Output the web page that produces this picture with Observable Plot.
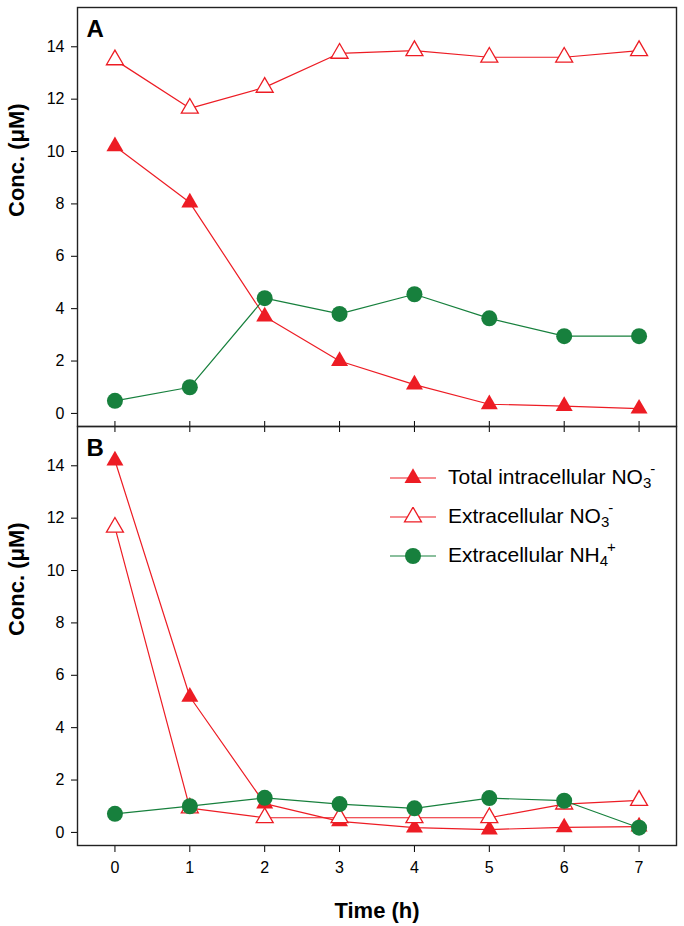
<!DOCTYPE html>
<html><head><meta charset="utf-8">
<script src="https://cdn.jsdelivr.net/npm/d3@7"></script>
<script src="https://cdn.jsdelivr.net/npm/@observablehq/plot@0.6"></script>
<style>
body{margin:0;background:#fff;font-family:"Liberation Sans",Arial,Helvetica,sans-serif;}
#wrap{position:relative;width:684px;height:926px;overflow:hidden;}
#wrap svg g[aria-label="x-axis label"] text{font-size:22px !important;font-weight:bold;}
#wrap svg g[aria-label="x-axis tick label"] text, #wrap svg g[aria-label="y-axis tick label"] text{font-size:16px !important;}
.lg{position:absolute;left:390px;height:20px;display:flex;align-items:center;white-space:nowrap;}
.lg span.t{margin-left:12px;font-size:21px;color:#000;line-height:20px;}
.lg sub{font-size:15px;position:relative;top:4px;vertical-align:baseline;}
.lg sup{font-size:15px;position:relative;top:-10px;vertical-align:baseline;margin-left:-1px;}
</style></head><body><div id="wrap"></div>
<script>
// ---- data ----
const times = [0, 1, 2, 3, 4, 5, 6, 7];
const panels = ["A", "B"];
const yTicks = [0, 2, 4, 6, 8, 10, 12, 14];
const A_intraNO3 = [10.2, 8.05, 3.7, 2.0, 1.1, 0.35, 0.28, 0.18];
const A_extraNO3 = [13.5, 11.65, 12.45, 13.75, 13.85, 13.6, 13.6, 13.85];
const A_extraNH4 = [0.48, 1.0, 4.4, 3.8, 4.55, 3.63, 2.95, 2.95];
const B_intraNO3 = [14.2, 5.18, 1.1, 0.42, 0.18, 0.11, 0.19, 0.22];
const B_extraNO3 = [11.65, 0.93, 0.56, 0.56, 0.56, 0.56, 1.08, 1.22];
const B_extraNH4 = [0.71, 1.0, 1.32, 1.08, 0.92, 1.31, 1.21, 0.18];
const legendMain = ["Total intracellular NO", "Extracellular NO", "Extracellular NH"];
const legendSub = ["3", "3", "4"];
const legendSup = ["-", "-", "+"];
const yLabel = "Conc. (μM)";
const xLabel = "Time (h)";

const RED = "#ed1c24", GREEN = "#17803d";

function rowsOf(panel, vals) { return vals.map((v, i) => ({panel, t: times[i], v})); }
const intra = [...rowsOf("A", A_intraNO3), ...rowsOf("B", B_intraNO3)];
const extra = [...rowsOf("A", A_extraNO3), ...rowsOf("B", B_extraNO3)];
const nh4 = [...rowsOf("A", A_extraNH4), ...rowsOf("B", B_extraNH4)];

const TRI_R = 6.3, CIR_R = 8;

const chart = Plot.plot({
  width: 684, height: 926,
  marginLeft: 77, marginRight: 8, marginTop: 7, marginBottom: 81,
  x: {domain: [-0.5, 7.5]},
  y: {domain: [-0.5, 15.5]},
  fy: {domain: panels, padding: 0, axis: null},
  style: {fontFamily: '"Liberation Sans", Arial, sans-serif', fontSize: "16px", color: "#000", background: "#fff"},
  marks: [
    Plot.axisY({ticks: yTicks, tickSize: 6, tickPadding: 7, fontSize: 16, label: null}),
    Plot.axisX({ticks: times, tickSize: 7, tickPadding: 9, fontSize: 16, label: xLabel, labelAnchor: "center", labelArrow: "none", labelOffset: 72}),
    Plot.axisX({ticks: times, anchor: "bottom", facetAnchor: "top", tickSize: -5, fill: "none", label: null}),
    Plot.axisX({ticks: times, anchor: "top", facetAnchor: "bottom", tickSize: -5, fill: "none", label: null}),
    Plot.text(panels, {fy: d => d, text: d => d, frameAnchor: "top-left", dx: 9, dy: 12, lineAnchor: "top", textAnchor: "start", fontSize: 24, fontWeight: "bold"}),
    Plot.text(panels, {fy: d => d, text: () => yLabel, frameAnchor: "left", dx: -54, rotate: -90, lineAnchor: "bottom", fontSize: 22, fontWeight: "bold"}),
    Plot.line(intra, {x: "t", y: "v", fy: "panel", stroke: RED, strokeWidth: 1.2}),
    Plot.line(extra, {x: "t", y: "v", fy: "panel", stroke: RED, strokeWidth: 1.2}),
    Plot.line(nh4, {x: "t", y: "v", fy: "panel", stroke: GREEN, strokeWidth: 1.2}),
    Plot.dot(intra, {x: "t", y: "v", fy: "panel", symbol: "triangle", r: TRI_R, fill: RED, stroke: "none"}),
    Plot.dot(extra, {x: "t", y: "v", fy: "panel", symbol: "triangle", r: TRI_R, fill: "white", stroke: RED, strokeWidth: 1.3}),
    Plot.dot(nh4, {x: "t", y: "v", fy: "panel", symbol: "circle", r: CIR_R, fill: GREEN, stroke: "none"}),
    Plot.frame({stroke: "#222", strokeWidth: 1.4})
  ]
});
const wrap = document.getElementById("wrap");
wrap.appendChild(chart);

// ---- legend (inside panel B) ----
const legendKinds = ["filled", "open", "circle"];
const rowCenters = [478, 517, 556];
legendKinds.forEach((k, i) => {
  const div = document.createElement("div");
  div.className = "lg";
  div.style.top = (rowCenters[i] - 10) + "px";
  const svg = d3.create("svg").attr("width", 46).attr("height", 20);
  const col = k === "circle" ? GREEN : RED;
  svg.append("line").attr("x1", 0).attr("x2", 46).attr("y1", 10).attr("y2", 10).attr("stroke", col).attr("stroke-width", 1.2);
  if (k === "circle") {
    svg.append("circle").attr("cx", 23).attr("cy", 10).attr("r", CIR_R).attr("fill", GREEN);
  } else {
    svg.append("path").attr("transform", "translate(23,10)")
      .attr("d", d3.symbol(d3.symbolTriangle, Math.PI * TRI_R * TRI_R)())
      .attr("fill", k === "filled" ? RED : "white")
      .attr("stroke", k === "filled" ? "none" : RED).attr("stroke-width", 1.3);
  }
  div.appendChild(svg.node());
  const t = document.createElement("span");
  t.className = "t";
  t.innerHTML = `${legendMain[i]}<sub>${legendSub[i]}</sub><sup>${legendSup[i]}</sup>`;
  div.appendChild(t);
  wrap.appendChild(div);
});
</script>
</body></html>
